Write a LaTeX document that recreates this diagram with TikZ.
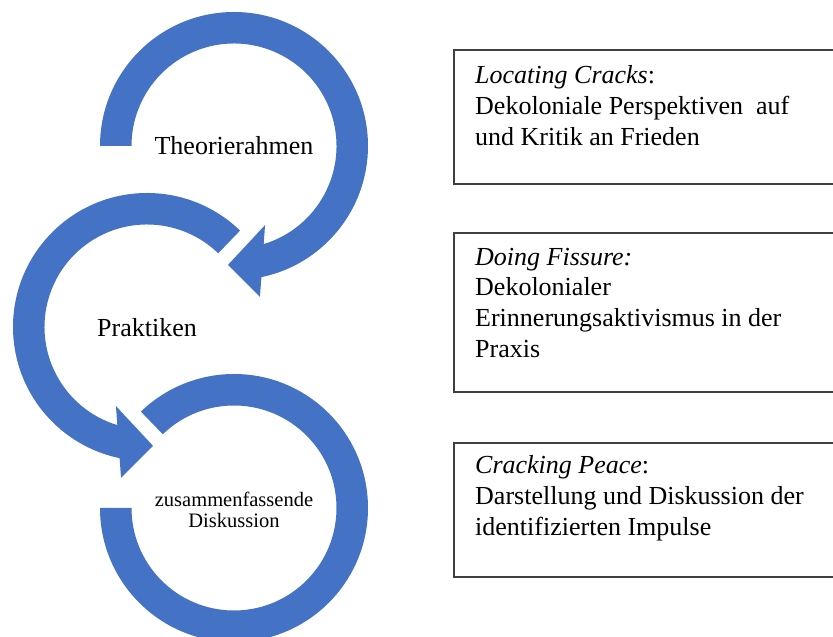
\documentclass[tikz,border=0pt]{standalone}
\usepackage{fontspec}
\setmainfont{Liberation Serif}
\usetikzlibrary{calc}
\definecolor{ringblue}{HTML}{4472C4}
\definecolor{boxgray}{HTML}{404040}
\begin{document}
\begin{tikzpicture}[x=1pt,y=1pt,
  ring/.style={fill=ringblue,draw=none},
  boxframe/.style={draw=boxgray,line width=1.1pt},
  cyclelabel/.style={font=\fontsize{26}{30}\selectfont,inner sep=0pt,anchor=base},
  smalllabel/.style={font=\fontsize{20.5}{21.5}\selectfont,inner sep=0pt,anchor=base,align=center},
  boxtext/.style={font=\fontsize{26}{30.8}\selectfont,inner sep=0pt,anchor=base west,align=left}]
\useasboundingbox (0,0) rectangle (833,637);
\clip (0,0) rectangle (833,637);
\def\RingIn{102.5pt}
\def\RingOut{134pt}
\coordinate (A) at (234,491);
\coordinate (B) at (147,310);
\coordinate (C) at (234,129);
% top circular arrow (clockwise)
\fill[ring] ($(A)+(180:\RingOut)$) arc[start angle=180,end angle=-78.2,radius=\RingOut]
  -- ($(A)+(-80.23:153pt)$) -- ($(A)+(-92.89:119pt)$) -- ($(A)+(-68.57:85pt)$)
  -- ($(A)+(-73.17:\RingIn)$) arc[start angle=-73.17,end angle=180,radius=\RingIn] -- cycle;
% middle circular arrow (counter-clockwise)
\fill[ring] ($(B)+(46:\RingOut)$) arc[start angle=46,end angle=258.2,radius=\RingOut]
  -- ($(B)+(260.23:153pt)$) -- ($(B)+(272.89:119pt)$) -- ($(B)+(248.57:85pt)$)
  -- ($(B)+(253.17:\RingIn)$) arc[start angle=253.17,end angle=46,radius=\RingIn] -- cycle;
% bottom ring
\fill[ring] ($(C)+(180:\RingOut)$) arc[start angle=180,end angle=494,radius=\RingOut]
  -- ($(C)+(494:\RingIn)$) arc[start angle=494,end angle=180,radius=\RingIn] -- cycle;
% labels
\node[cyclelabel] (tA) at (234,482) {Theorierahmen};
\node[cyclelabel] (tB) at (147,300) {Praktiken};
\node[smalllabel] (tC) at (234,109) {zusammenfassende\\Diskussion};
% boxes
\draw[boxframe] (454,587) rectangle (860,453);
\draw[boxframe] (454,404) rectangle (860,245);
\draw[boxframe] (454,194) rectangle (860,60);
\node[boxtext] (b1) at (475,491.5) {\textit{Locating Cracks}:\\Dekoloniale Perspektiven\ \ auf\\und Kritik an Frieden};
\node[boxtext] (b2) at (475,279.5) {\textit{Doing Fissure:}\\Dekolonialer\\Erinnerungsaktivismus in der\\Praxis};
\node[boxtext] (b3) at (475,101.5) {\textit{Cracking Peace}:\\Darstellung und Diskussion der\\identifizierten Impulse};
\end{tikzpicture}
\end{document}
